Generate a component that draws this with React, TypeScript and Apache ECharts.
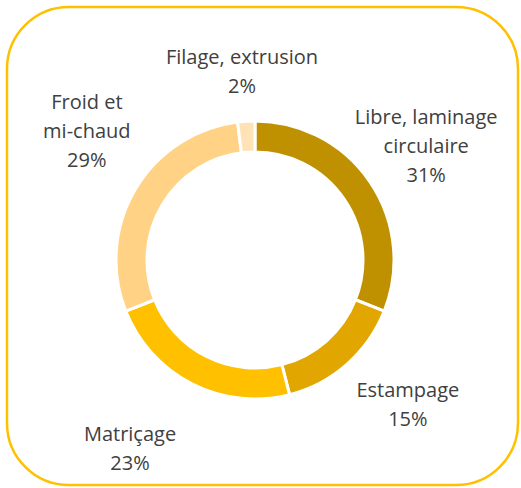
import React, { useEffect, useRef } from "react";
import * as echarts from "echarts";

const categories = [
  "Libre, laminage\ncirculaire",
  "Estampage",
  "Matriçage",
  "Froid et\nmi-chaud",
  "Filage, extrusion",
];
const values = [31, 15, 23, 29, 2];
const colors = ["#BF9000", "#E2A600", "#FFC000", "#FFD285", "#FFE2B5"];
const labelNudge = [
  [0, 2],
  [16, -11],
  [-31, 4],
  [10, -24],
  [0, 18],
];

export default function App() {
  const ref = useRef<HTMLDivElement>(null);
  useEffect(() => {
    if (!ref.current) return;
    const chart = echarts.init(ref.current, null, { renderer: "svg" });
    const cx = 255;
    const cy = 260;
    const total = values.reduce((a, b) => a + b, 0);
    const labelR = 207;
    chart.setOption({
      animation: false,
      backgroundColor: "#ffffff",
      graphic: [
        {
          type: "rect",
          shape: { x: 7, y: 7, width: 511, height: 478, r: 62 },
          style: { fill: "none", stroke: "#FFC000", lineWidth: 2.5 },
          silent: true,
        },
      ],
      series: [
        {
          type: "pie",
          center: [cx, cy],
          radius: [108, 139],
          startAngle: 90,
          clockwise: true,
          avoidLabelOverlap: false,
          itemStyle: { borderColor: "#ffffff", borderWidth: 3 },
          label: {
            show: true,
            position: "outside",
            alignTo: "none",
            edgeDistance: 0,
            bleedMargin: 0,
            overflow: "none",
            formatter: (p: any) => `${p.name}\n${p.value}%`,
            fontFamily: "'Open Sans', sans-serif",
            fontSize: 20,
            lineHeight: 29,
            color: "#404040",
            align: "center",
          },
          labelLine: { show: false },
          labelLayout: (params: any) => {
            const i = params.dataIndex;
            let before = 0;
            for (let k = 0; k < i; k++) before += values[k];
            const mid = ((before + values[i] / 2) / total) * Math.PI * 2;
            return {
              x: cx + labelR * Math.sin(mid) + labelNudge[i][0],
              y: cy - labelR * Math.cos(mid) + labelNudge[i][1],
              align: "center",
              verticalAlign: "middle",
            };
          },
          data: categories.map((name, i) => ({
            name,
            value: values[i],
            itemStyle: { color: colors[i] },
          })),
        },
      ],
    });
    return () => chart.dispose();
  }, []);
  return (
    <div
      ref={ref}
      style={{ position: "fixed", left: 0, top: 0, width: 521, height: 488 }}
    />
  );
}
